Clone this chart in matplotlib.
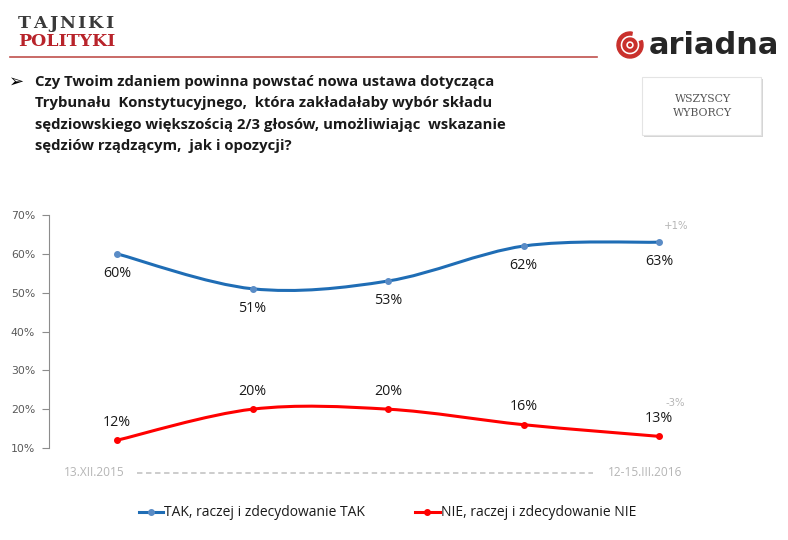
import matplotlib.pyplot as plt
import numpy as np
from matplotlib.path import Path
from matplotlib.patches import PathPatch, Rectangle, Wedge, Circle
from matplotlib.lines import Line2D

# data
waves = ['13.XII.2015', '', '', '', '12-15.III.2016']
tak = [60, 51, 53, 62, 63]
nie = [12, 20, 20, 16, 13]
tak_change = '+1%'
nie_change = '-3%'
tak_label = 'TAK, raczej i zdecydowanie TAK'
nie_label = 'NIE, raczej i zdecydowanie NIE'
question = ['Czy Twoim zdaniem powinna powstać nowa ustawa dotycząca',
            'Trybunału  Konstytucyjnego,  która zakładałaby wybór składu',
            'sędziowskiego większością 2/3 głosów, umożliwiając  wskazanie',
            'sędziów rządzącym,  jak i opozycji?']

BLUE = '#1f6db5'
BLUE_M = '#5a8cc6'
RED = '#ff0000'
LOGO_RED = '#c9302c'
W, H = 788, 540


def smooth_path(xs, ys):
    # bezier segments like excel's smoothed line
    pts = np.column_stack([xs, ys]).astype(float)
    ext = np.vstack([pts[0], pts, pts[-1]])
    verts = [pts[0]]
    codes = [Path.MOVETO]
    for i in range(len(pts) - 1):
        p0, p1, p2, p3 = ext[i], ext[i + 1], ext[i + 2], ext[i + 3]
        c1 = p1 + (p2 - p0) / 6
        c2 = p2 - (p3 - p1) / 6
        verts += [c1, c2, p2]
        codes += [Path.CURVE4] * 3
    return Path(verts, codes)


def spaced_text(ax, x0, y, s, track, **kw):
    # draw letters one by one with extra spacing (pixels)
    r = fig.canvas.get_renderer()
    xx = x0
    for ch in s:
        t = ax.text(xx, y, ch, ha='left', va='center', **kw)
        bb = t.get_window_extent(renderer=r)
        xx += bb.width + track


fig = plt.figure(figsize=(W / 100, H / 100), dpi=100)
bg = fig.add_axes([0, 0, 1, 1])
bg.set_xlim(0, W)
bg.set_ylim(H, 0)
bg.axis('off')

# header
spaced_text(bg, 18, 24, 'TAJNIKI', 2.2, family='DejaVu Serif', fontsize=12.5,
            color='#3a3a3a', fontweight='bold')
bg.text(18, 42, 'POLITYKI', family='DejaVu Serif', fontsize=12.5, color='#b8232a',
        va='center', ha='left', fontweight='bold')
bg.plot([10, 597], [57, 57], color='#c0504d', lw=1.2)

# ariadna logo (y axis is flipped here, so the gap sits top right)
bg.add_patch(Wedge((630, 45), 13, -20, 280, width=3, color=LOGO_RED))
bg.add_patch(Wedge((630, 45), 7, 0, 360, width=2.6, color=LOGO_RED))
bg.add_patch(Circle((630, 45), 1.4, color=LOGO_RED))
bg.text(649, 45, 'ariadna', family='DejaVu Sans', fontweight='bold', fontsize=22,
        color='#262626', va='center', ha='left')

# box
bg.add_patch(Rectangle((644, 79), 119, 58, color='#d5d5d5', lw=0))
bg.add_patch(Rectangle((642, 77), 119, 58, facecolor='white', edgecolor='#e4e4e4', lw=0.8))
bg.text(703, 99, 'WSZYSCY', family='DejaVu Serif', fontsize=7.8, color='#555555',
        ha='center', va='center')
bg.text(703, 113, 'WYBORCY', family='DejaVu Serif', fontsize=7.8, color='#555555',
        ha='center', va='center')

# question
bg.text(9, 82, '➢', family='DejaVu Sans', fontsize=13, color='black', va='center')
for i, line in enumerate(question):
    bg.text(35, 82 + i * 21.3, line, family='Open Sans', fontweight='bold', fontsize=10.7,
            color='#1a1a1a', va='center', ha='left')

# chart axes
ax = fig.add_axes([49 / W, 92 / H, 650.4 / W, 233 / H])
ax.patch.set_alpha(0)
x = np.arange(len(tak))
ax.set_xlim(-0.502, 4.298)
ax.set_ylim(10, 70)
ax.set_yticks(range(10, 71, 10))
ax.set_yticklabels([f'{v}%' for v in range(10, 71, 10)])
for s in ['top', 'right', 'bottom']:
    ax.spines[s].set_visible(False)
ax.spines['left'].set_color('#8c8c8c')
ax.tick_params(axis='y', colors='#8c8c8c', labelcolor='#595959', labelsize=7.8,
               length=5, pad=5)
ax.set_xticks([])

ax.add_patch(PathPatch(smooth_path(x, tak), fill=False, ec=BLUE, lw=2.2, clip_on=False))
ax.add_patch(PathPatch(smooth_path(x, nie), fill=False, ec=RED, lw=2.2, clip_on=False))
ax.plot(x, tak, 'o', color=BLUE_M, ms=4, clip_on=False)
ax.plot(x, nie, 'o', color=RED, ms=4, clip_on=False)

for xi, v in zip(x, tak):
    ax.annotate(f'{v}%', (xi, v), xytext=(0, -14), textcoords='offset points',
                ha='center', va='center', fontsize=10.3, family='Open Sans', color='#1a1a1a')
for xi, v in zip(x, nie):
    ax.annotate(f'{v}%', (xi, v), xytext=(0, 13), textcoords='offset points',
                ha='center', va='center', fontsize=10.3, family='Open Sans', color='#1a1a1a')
ax.annotate(tak_change, (x[-1], tak[-1]), xytext=(12, 12), textcoords='offset points',
            ha='center', va='center', fontsize=7.3, color='#b5b5b5', annotation_clip=False)
ax.annotate(nie_change, (x[-1], nie[-1]), xytext=(12, 24), textcoords='offset points',
            ha='center', va='center', fontsize=7.3, color='#b5b5b5', annotation_clip=False)

# time axis
bg.plot([137, 593], [473, 473], color='#c8c8c8', lw=1.3, ls=(0, (3, 2)))
bg.text(125, 473, waves[0], fontsize=8.6, color='#b5b5b5', ha='right', va='center',
        family='Open Sans')
bg.text(608, 473, waves[-1], fontsize=8.6, color='#b5b5b5', ha='left', va='center',
        family='Open Sans')

# legend
bg.add_line(Line2D([139, 163], [512, 512], color=BLUE, lw=2.2))
bg.plot(151, 512, 'o', color=BLUE_M, ms=4)
bg.text(164, 512, tak_label, fontsize=10, family='Open Sans', color='#1a1a1a',
        va='center', ha='left')
bg.add_line(Line2D([415, 440], [512, 512], color=RED, lw=2.2))
bg.plot(427, 512, 'o', color=RED, ms=4)
bg.text(441, 512, nie_label, fontsize=10, family='Open Sans', color='#1a1a1a',
        va='center', ha='left')

fig.savefig('out.png', dpi=100)
